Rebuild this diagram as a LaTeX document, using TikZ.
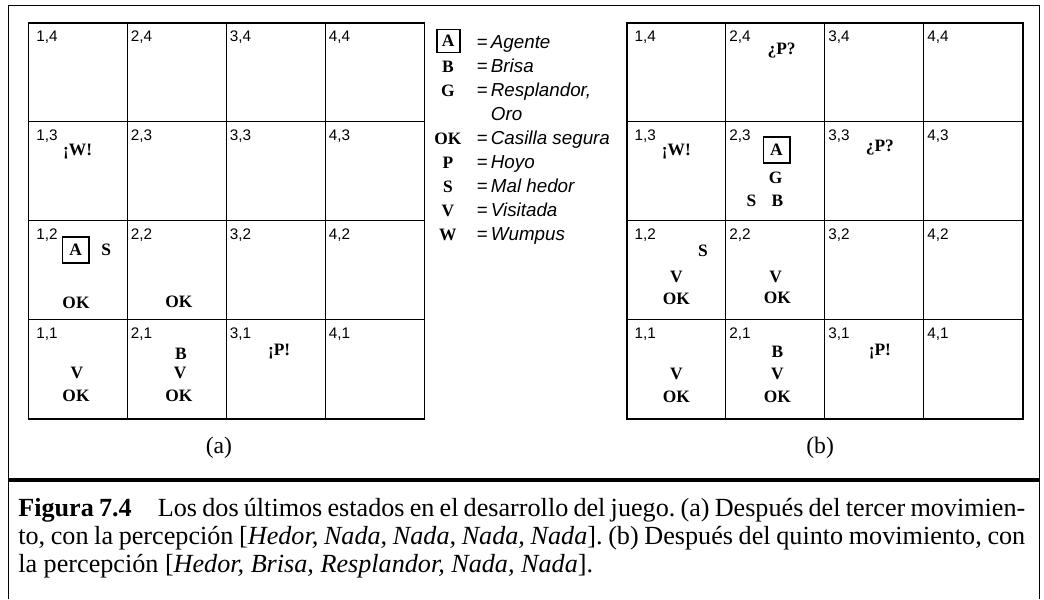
\documentclass[tikz,border=0pt]{standalone}
\usepackage{fontspec}
\setmainfont{Liberation Serif}
\setsansfont{Liberation Sans}

\tikzset{
  cellnum/.style={anchor=north west, inner sep=0pt, font=\sffamily\fontsize{11}{13}\selectfont},
  sym/.style={inner sep=0pt, font=\bfseries\fontsize{12.5}{14}\selectfont},
  agent/.style={sym, draw, line width=1.3pt, minimum size=0.66cm},
  legtxt/.style={anchor=base west, inner sep=0pt, font=\sffamily\itshape\fontsize{13.5}{16}\selectfont},
  subcap/.style={inner sep=0pt, font=\fontsize{17}{20}\selectfont},
  capline/.style={anchor=base west, inner sep=0pt, font=\fontsize{18.8}{22}\selectfont}
}

\begin{document}
\frenchspacing
\begin{tikzpicture}
  \useasboundingbox[fill=white] (-0.72,-4.552) rectangle (25.645,10.575);
  % outer frame and the rule above the caption
  \draw[line width=0.7pt] (-0.51,-4.552) -- (-0.51,10.448) -- (25.52,10.448) -- (25.52,-4.552);
  \draw[line width=2.2pt] (-0.51,-1.547) -- (25.52,-1.547);

  % (a) after the third move
  \begin{scope}
    \draw[line width=0.6pt] (0,0) grid[step=2.5cm] (10,10);
    \draw[line width=1.4pt] (0,0) rectangle (10,10);
    \foreach \i in {1,...,4}
      \foreach \j in {1,...,4}
        \node[cellnum] (a\i\j) at ({2.5*\i-2.5+(\i==1?0.19:0.08)},{2.5*\j-0.2}) {\i,\j};
    \node[sym] (aW) at (1.24,6.74) {¡W!};
    \node[agent] (aA) at (1.19,4.27) {A};
    \node[sym] (aS) at (1.96,4.26) {S};
    \node[sym] (aOK12) at (1.20,2.94) {OK};
    \node[sym] (aOK22) at (3.80,2.95) {OK};
    \node[sym] (aV11) at (1.22,1.15) {V};
    \node[sym] (aOK11) at (1.20,0.57) {OK};
    \node[sym] (aB) at (3.85,1.64) {B};
    \node[sym] (aV21) at (3.83,1.15) {V};
    \node[sym] (aOK21) at (3.80,0.57) {OK};
    \node[sym] (aP) at (6.33,1.69) {¡P!};
    \node[subcap] (capa) at (4.81,-0.74) {(a)};
  \end{scope}

  % key
  \node[agent, minimum size=0.58cm] (keyA) at (10.6,9.54) {A};
  \node[legtxt] (eqA) at (11.31,9.36) {=};
  \node[legtxt] (txtA) at (11.67,9.36) {Agente};
  \foreach \k/\s/\t in {1/B/Brisa, 2/G/{Resplandor,}, 4/OK/Casilla segura,
                        5/P/Hoyo, 6/S/Mal hedor, 7/V/Visitada, 8/W/Wumpus}
  {
    \node[sym, anchor=base] (key\s) at (10.59,{9.36-0.606*\k}) {\s};
    \node[legtxt] (eq\s) at (11.31,{9.36-0.606*\k}) {=};
    \node[legtxt] (txt\s) at (11.67,{9.36-0.606*\k}) {\t};
  }
  \node[legtxt] (txtOro) at (11.67,7.542) {Oro};

  % (b) after the fifth move
  \begin{scope}[shift={(15.11,0)}]
    \draw[line width=0.6pt] (0,0) grid[step=2.5cm] (10,10);
    \draw[line width=1.4pt] (0,0) rectangle (10,10);
    \foreach \i in {1,...,4}
      \foreach \j in {1,...,4}
        \node[cellnum] (b\i\j) at ({2.5*\i-2.5+(\i==1?0.19:0.08)},{2.5*\j-0.2}) {\i,\j};
    \node[sym] (bP24) at (3.91,9.31) {¿P?};
    \node[sym] (bW) at (1.25,6.74) {¡W!};
    \node[agent] (bA) at (3.78,6.79) {A};
    \node[sym] (bG) at (3.76,6.09) {G};
    \node[sym] (bS23) at (3.15,5.50) {S};
    \node[sym] (bB23) at (3.80,5.50) {B};
    \node[sym] (bP33) at (6.39,6.86) {¿P?};
    \node[sym] (bS12) at (1.92,4.24) {S};
    \node[sym] (bV12) at (1.25,3.58) {V};
    \node[sym] (bOK12) at (1.25,3.04) {OK};
    \node[sym] (bV22) at (3.76,3.58) {V};
    \node[sym] (bOK22) at (3.80,3.05) {OK};
    \node[sym] (bV11) at (1.25,1.13) {V};
    \node[sym] (bOK11) at (1.25,0.56) {OK};
    \node[sym] (bB21) at (3.80,1.69) {B};
    \node[sym] (bV21) at (3.80,1.13) {V};
    \node[sym] (bOK21) at (3.80,0.56) {OK};
    \node[sym] (bP31) at (6.39,1.69) {¡P!};
    \node[subcap] (capb) at (4.88,-0.74) {(b)};
  \end{scope}

  % caption, set line by line
  \node[capline] (line1) at (-0.265,-2.48) {\makebox[25.43cm][s]{\textbf{Figura 7.4}\quad Los dos últimos estados en el desarrollo del juego. (a) Después del tercer movimien-}};
  \node[capline] (line2) at (-0.265,-3.176) {\makebox[25.43cm][s]{to, con la percepción [\textit{Hedor, Nada, Nada, Nada, Nada}]. (b) Después del quinto movimiento, con}};
  \node[capline] (line3) at (-0.265,-3.87) {la percepción [\textit{Hedor, Brisa, Resplandor, Nada, Nada}].};
\end{tikzpicture}
\end{document}
